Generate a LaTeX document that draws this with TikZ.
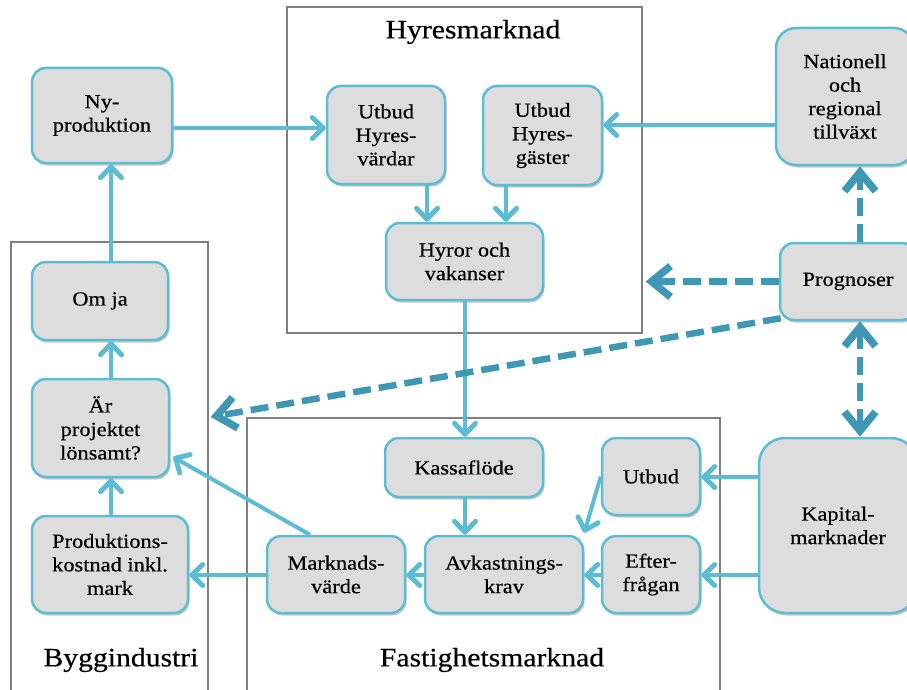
\documentclass[tikz,border=0pt]{standalone}
\usepackage{fontspec}
\setmainfont[FakeStretch=1.12,FakeBold=0.5]{Liberation Serif}
\usetikzlibrary{arrows.meta,shadows,calc}

\definecolor{boxfill}{RGB}{221,221,221}
\definecolor{boxline}{RGB}{92,188,212}
\definecolor{dashblue}{RGB}{62,152,180}
\definecolor{framegray}{RGB}{128,128,128}

\begin{document}
\begin{tikzpicture}[x=1pt,y=-1pt,
  box/.style={draw=boxline, line width=2.5pt, fill=boxfill, rounded corners=14pt,
    align=center, inner sep=0pt, font=\fontsize{20}{23.5}\selectfont,
    drop shadow={shadow xshift=1.5pt, shadow yshift=-2.5pt, opacity=0.3, fill=black!70}},
  frame/.style={draw=framegray, line width=1.3pt, fill=white, inner sep=0pt,
    drop shadow={shadow xshift=1pt, shadow yshift=-1pt, opacity=0.2, fill=black!50}},
  title/.style={font=\fontsize{26.5}{30}\selectfont, inner sep=0pt},
  flow/.style={draw=boxline, line width=4pt,
    -{Straight Barb[length=11pt,width=21pt,line width=5pt,round]}},
  dflow/.style={draw=dashblue, line width=6.5pt, dash pattern=on 18pt off 8pt,
    -{Straight Barb[length=19pt,width=31pt,line width=7.5pt]}},
  dflowboth/.style={dflow, {Straight Barb[length=19pt,width=31pt,line width=7.5pt]}-{Straight Barb[length=19pt,width=31pt,line width=7.5pt]}}
]
\useasboundingbox (0,0) rectangle (907,690);
\clip (0,0) rectangle (907,690);
\fill[white] (0,0) rectangle (907,690);

% market frames
\node[frame, minimum width=355pt, minimum height=326pt] (hyresbox) at (464.5,170) {};
\node[frame, minimum width=197pt, minimum height=458pt] (byggbox) at (109.5,471) {};
\node[frame, minimum width=473pt, minimum height=282pt] (fastbox) at (483.5,559) {};

\node[title] (thyres) at (473,32) {Hyresmarknad};
\node[title] (tbygg) at (121,660) {Byggindustri};
\node[title] (tfast) at (492,660) {Fastighetsmarknad};

% boxes
\node[box, minimum width=140pt, minimum height=95pt] (ny) at (102,115.5) {Ny-\\produktion};
\node[box, minimum width=136pt, minimum height=78pt] (omja) at (100,301) {Om ja};
\node[box, minimum width=137pt, minimum height=98pt] (lons) at (100.5,428) {Är\\projektet\\lönsamt?};
\node[box, minimum width=156pt, minimum height=97pt] (prod) at (110,564.5) {Produktions-\\kostnad inkl.\\mark};
\node[box, minimum width=138pt, minimum height=77pt] (mv) at (336,574.5) {Marknads-\\värde};
\node[box, minimum width=158pt, minimum height=77pt] (avk) at (504,574.5) {Avkastnings-\\krav};
\node[box, minimum width=158pt, minimum height=59pt] (kassa) at (464,467.5) {Kassaflöde};
\node[box, minimum width=98pt, minimum height=77pt] (utbud) at (651,476.5) {Utbud};
\node[box, minimum width=98pt, minimum height=77pt] (efter) at (651,574.5) {Efter-\\frågan};
\node[box, minimum width=158pt, minimum height=175pt, rounded corners=26pt] (kap) at (838,525.5) {Kapital-\\marknader};
\node[box, minimum width=118pt, minimum height=98pt] (uhv) at (386,135) {Utbud\\Hyres-\\värdar};
\node[box, minimum width=119pt, minimum height=99pt] (uhg) at (542.5,135.5) {Utbud\\Hyres-\\gäster};
\node[box, minimum width=157pt, minimum height=77pt] (hyror) at (464.5,261.5) {Hyror och\\vakanser};
\node[box, minimum width=138pt, minimum height=137pt, rounded corners=20pt] (nat) at (845,96.5) {Nationell\\och\\regional\\tillväxt};
\node[box, minimum width=136pt, minimum height=77pt] (prog) at (848,281.5) {Prognoser};

% guide lines for connectors
\coordinate (colbygg) at (111,0);
\coordinate (colhv) at (427,0);
\coordinate (colhg) at (506,0);
\coordinate (colmid) at (465,0);
\coordinate (colprog) at (860,0);
\coordinate (rowny) at (0,128);
\coordinate (rownat) at (0,125);
\coordinate (rowutbud) at (0,477);
\coordinate (rowlow) at (0,575);
\coordinate (rowbygg) at (0,417);

% solid connectors
\draw[flow] (omja.north -| colbygg) -- (ny.south -| colbygg);
\draw[flow] (lons.north -| colbygg) -- (omja.south -| colbygg);
\draw[flow] (prod.north -| colbygg) -- (lons.south -| colbygg);
\draw[flow] (ny.east |- rowny) -- (uhv.west |- rowny);
\draw[flow] (nat.west |- rownat) -- (uhg.east |- rownat);
\draw[flow] (uhv.south -| colhv) -- (hyror.north -| colhv);
\draw[flow] (uhg.south -| colhg) -- (hyror.north -| colhg);
\draw[flow] (hyror.south -| colmid) -- (kassa.north -| colmid);
\draw[flow] (kassa.south -| colmid) -- (avk.north -| colmid);
\draw[flow] (kap.west |- rowutbud) -- (utbud.east |- rowutbud);
\draw[flow] (kap.west |- rowlow) -- (efter.east |- rowlow);
\draw[flow] (efter.west |- rowlow) -- (avk.east |- rowlow);
\draw[flow] (avk.west |- rowlow) -- (mv.east |- rowlow);
\draw[flow] (mv.west |- rowlow) -- (prod.east |- rowlow);
\draw[flow] (utbud.west) -- ($(avk.north east)+(0,-2)$);
\draw[flow] ($(mv.north)+(-26,0)$) -- ($(lons.east)+(3,29)$);

% dashed forecast connectors
\draw[dflow] (prog.north -| colprog) -- (nat.south -| colprog);
\draw[dflowboth] (prog.south -| colprog) -- (kap.north -| colprog);
\draw[dflow] (prog.west) -- ($(prog.west -| hyresbox.east)+(3,0)$);
\draw[dflow] ($(prog.south west)+(2,-3)$) -- ($(byggbox.east |- rowbygg)+(2,0)$);
\end{tikzpicture}
\end{document}
